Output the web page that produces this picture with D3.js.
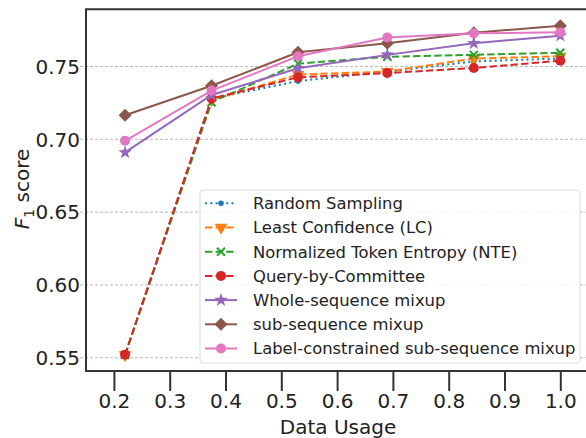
<!DOCTYPE html>
<html>
<head>
<meta charset="utf-8">
<script src="https://cdn.jsdelivr.net/npm/d3@7"></script>
<style>
  body { margin: 0; background: #fff; }
  text { font-family: "DejaVu Sans", sans-serif; fill: #222; }
</style>
</head>
<body>
<svg width="586" height="438"></svg>
<script>
// data
let usage = [0.22, 0.375, 0.53, 0.69, 0.845, 1.0];
let randomSampling = [0.552, 0.728, 0.740, 0.7465, 0.7535, 0.7555];
let leastConf = [0.552, 0.727, 0.7445, 0.7465, 0.7555, 0.757];
let nte = [0.552, 0.7255, 0.752, 0.7567, 0.758, 0.7595];
let qbc = [0.552, 0.728, 0.7426, 0.7455, 0.749, 0.754];
let wholeMixup = [0.691, 0.7305, 0.7488, 0.758, 0.766, 0.7712];
let subMixup = [0.7165, 0.7368, 0.7598, 0.766, 0.7732, 0.778];
let labelMixup = [0.699, 0.7335, 0.757, 0.770, 0.7728, 0.7735];

let xTicks = [0.2, 0.3, 0.4, 0.5, 0.6, 0.7, 0.8, 0.9, 1.0];
let yTicks = [0.55, 0.60, 0.65, 0.70, 0.75];

let series = [
  {name: "Random Sampling", values: randomSampling, color: "#1f77b4", dash: "2,3.3", marker: "dot"},
  {name: "Least Confidence (LC)", values: leastConf, color: "#ff7f0e", dash: "7.4,3.2", marker: "tri"},
  {name: "Normalized Token Entropy (NTE)", values: nte, color: "#2ca02c", dash: "7.4,3.2", marker: "x"},
  {name: "Query-by-Committee", values: qbc, color: "#d62728", dash: "7.4,3.2", marker: "circle"},
  {name: "Whole-sequence mixup", values: wholeMixup, color: "#9467bd", dash: null, marker: "star"},
  {name: "sub-sequence mixup", values: subMixup, color: "#8c564b", dash: null, marker: "diamond"},
  {name: "Label-constrained sub-sequence mixup", values: labelMixup, color: "#e377c2", dash: null, marker: "circle"}
];

let svg = d3.select("svg");

let x = d3.scaleLinear().domain([0.15, 1.05]).range([86, 588.2]);
let y = d3.scaleLinear().domain([0.5409, 0.7893]).range([371, 9.3]);

// grid
svg.append("g")
  .selectAll("line")
  .data(yTicks)
  .enter().append("line")
  .attr("x1", 80).attr("x2", 586)
  .attr("y1", d => y(d)).attr("y2", d => y(d))
  .style("stroke", "#b8b8b8")
  .style("stroke-width", 1)
  .style("stroke-dasharray", "3,2");

// y tick labels
svg.append("g")
  .selectAll("text")
  .data(yTicks)
  .enter().append("text")
  .attr("x", 80)
  .attr("y", d => y(d))
  .attr("dy", "0.36em")
  .attr("text-anchor", "end")
  .style("font-size", "20px")
  .text(d => d3.format(".2f")(d));

// x ticks
let xAxis = d3.axisBottom(x)
  .tickValues(xTicks)
  .tickFormat(d3.format(".1f"))
  .tickSize(20)
  .tickPadding(3);

let gx = svg.append("g")
  .attr("transform", "translate(0,371)")
  .call(xAxis);
gx.select(".domain").remove();
gx.selectAll(".tick line").style("stroke", "#333").style("stroke-width", 2);
gx.selectAll(".tick text")
  .style("font-size", "20px")
  .style("font-family", "DejaVu Sans")
  .style("fill", "#222");

let line = d3.line()
  .x((d, i) => x(usage[i]))
  .y(d => y(d));

function drawMarker(g, type, color, cx, cy) {
  if (type == "dot") {
    g.append("circle").attr("cx", cx).attr("cy", cy).attr("r", 2.8).attr("fill", color);
  } else if (type == "circle") {
    g.append("circle").attr("cx", cx).attr("cy", cy).attr("r", 5).attr("fill", color);
  } else if (type == "tri") {
    g.append("path")
      .attr("d", d3.symbol().type(d3.symbolTriangle).size(70)())
      .attr("transform", `translate(${cx},${cy}) rotate(180)`)
      .attr("fill", color);
  } else if (type == "x") {
    g.append("path")
      .attr("d", "M-4,-4L4,4M-4,4L4,-4")
      .attr("transform", `translate(${cx},${cy})`)
      .style("stroke", color).style("stroke-width", 2);
  } else if (type == "star") {
    g.append("path")
      .attr("d", d3.symbol().type(d3.symbolStar).size(60)())
      .attr("transform", `translate(${cx},${cy})`)
      .attr("fill", color);
  } else if (type == "diamond") {
    g.append("path")
      .attr("d", d3.symbol().type(d3.symbolSquare).size(85)())
      .attr("transform", `translate(${cx},${cy}) rotate(45)`)
      .attr("fill", color);
  }
}

// series
series.forEach(s => {
  let g = svg.append("g");
  g.append("path")
    .datum(s.values)
    .attr("d", line)
    .attr("fill", "none")
    .style("stroke", s.color)
    .style("stroke-width", 2)
    .style("stroke-dasharray", s.dash);
  s.values.forEach((v, i) => drawMarker(g, s.marker, s.color, x(usage[i]), y(v)));
});

// spines
svg.append("path")
  .attr("d", "M86,371V9.3H590")
  .attr("fill", "none")
  .style("stroke", "#333")
  .style("stroke-width", 2);
svg.append("line")
  .attr("x1", 85).attr("x2", 590)
  .attr("y1", 371).attr("y2", 371)
  .style("stroke", "#333")
  .style("stroke-width", 2);

// legend
let legend = svg.append("g");
legend.append("rect")
  .attr("x", 200).attr("y", 190)
  .attr("width", 380).attr("height", 173)
  .attr("rx", 3)
  .attr("fill", "white")
  .attr("fill-opacity", 0.85)
  .style("stroke", "#dcdcdc");

series.forEach((s, i) => {
  let ly = 203.3 + i * 24.2;
  let row = legend.append("g");
  row.append("line")
    .attr("x1", 205).attr("x2", 237)
    .attr("y1", ly).attr("y2", ly)
    .style("stroke", s.color)
    .style("stroke-width", 2)
    .style("stroke-dasharray", s.dash);
  drawMarker(row, s.marker, s.color, 221, ly);
  row.append("text")
    .attr("x", 253)
    .attr("y", ly)
    .attr("dy", "0.36em")
    .style("font-size", "16.4px")
    .text(s.name);
});

// axis labels
svg.append("text")
  .attr("x", 338)
  .attr("y", 434)
  .attr("text-anchor", "middle")
  .style("font-size", "20px")
  .text("Data Usage");

let yl = svg.append("text")
  .attr("transform", "translate(29,189) rotate(-90)")
  .attr("text-anchor", "middle")
  .style("font-size", "20px");
yl.append("tspan").style("font-style", "italic").text("F");
yl.append("tspan").attr("dy", 5).style("font-size", "14px").text("1");
yl.append("tspan").attr("dy", -5).text(" score");
</script>
</body>
</html>
